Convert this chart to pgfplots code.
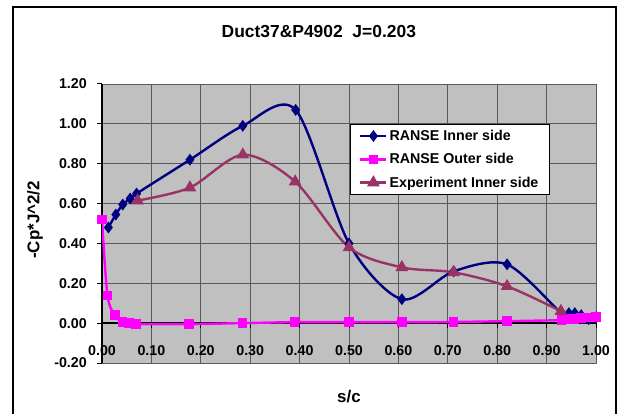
\documentclass[border=0pt]{standalone}
\usepackage{fontspec}
\setmainfont{Liberation Sans}
\usepackage{pgfplots}
\pgfplotsset{compat=1.18}
\definecolor{navy}{HTML}{000080}
\definecolor{mag}{HTML}{FF00FF}
\definecolor{plum}{HTML}{993366}
\definecolor{plotbg}{HTML}{C0C0C0}
\newcommand\tickfont{\fontsize{14.3}{16}\selectfont\bfseries}
\newcommand\legfont{\fontsize{14.3}{16}\selectfont\bfseries}
\newcommand\labfont{\fontsize{17}{20}\selectfont\bfseries}
\begin{document}
\begin{tikzpicture}
\path[use as bounding box] (0bp,0bp) rectangle (624bp,414bp);
\draw[line width=1.3bp] (13bp,-10bp) rectangle (616bp,407bp);
\begin{axis}[
  at={(102bp,51bp)}, anchor=south west,
  width=494bp, height=279bp, scale only axis,
  xmin=0, xmax=1, ymin=-0.2, ymax=1.2,
  xtick={0,0.1,0.2,0.3,0.4,0.5,0.6,0.7,0.8,0.9,1.0},
  ytick={-0.2,0,0.2,0.4,0.6,0.8,1.0,1.2},
  axis x line*=middle, axis y line*=left,
  hide obscured x ticks=false, hide obscured y ticks=false,
  axis background/.style={fill=plotbg, draw=black!50},
  grid=major, major grid style={black!65, line width=0.9bp},
  x axis line style={black, line width=1.3bp},
  y axis line style={black, line width=1.3bp},
  tick style={black, line width=1bp},
  major tick length=5bp, tick align=outside,
  /pgf/number format/.cd, fixed, fixed zerofill, precision=2, assume math mode=true, /pgfplots/.cd,
  xticklabel style={font=\tickfont, inner sep=0pt, anchor=north, yshift=-17bp},
  yticklabel style={font=\tickfont, inner sep=0pt, anchor=east, xshift=-10bp},
  title={Duct37\&P4902\ \ J=0.203},
  title style={font=\fontsize{17.5}{20}\selectfont\bfseries, at={(axis description cs:0.439,1.165)}, anchor=center},
  xlabel={s/c},
  xlabel style={font=\labfont, at={(axis description cs:0.5,-0.1219)}, anchor=center},
  ylabel={-Cp*J\^{}2/2},
  ylabel style={font=\labfont, at={(axis description cs:-0.1356,0.513)}, anchor=center},
  legend style={at={(axis description cs:0.502,0.857)}, anchor=north west, draw=black, fill=white, font=\legfont, row sep=7.5bp, inner xsep=9bp, inner ysep=4bp, cells={anchor=west}},
  legend image code/.code={\draw[mark repeat=2,mark phase=2,#1] plot coordinates {(0bp,0bp) (13bp,0bp) (26bp,0bp)};},
]
\addplot[navy, line width=2.4bp, smooth, mark=diamond*, mark size=4bp, mark options={solid}] coordinates {
(0.013,0.48) (0.028,0.545) (0.042,0.595) (0.057,0.625) (0.070,0.65)
(0.178,0.82) (0.285,0.99) (0.392,1.07) (0.50,0.40) (0.607,0.12)
(0.712,0.26) (0.82,0.295) (0.93,0.05) (0.945,0.05) (0.957,0.05)
(0.97,0.04) (0.985,0.02) (1.0,0.03)};
\addlegendentry{RANSE Inner side}
\addplot[mag, line width=2.4bp, smooth, mark=square*, mark size=3.5bp, mark options={solid}] coordinates {
(0,0.52) (0.011,0.14) (0.026,0.04) (0.041,0.005) (0.055,0.0) (0.069,-0.005)
(0.176,-0.005) (0.284,0.0) (0.39,0.005) (0.5,0.005) (0.607,0.005)
(0.712,0.006) (0.82,0.01) (0.93,0.015) (0.945,0.02) (0.957,0.02)
(0.97,0.025) (0.985,0.028) (1.0,0.03)};
\addlegendentry{RANSE Outer side}
\addplot[plum, line width=2.4bp, smooth, mark=triangle*, mark size=5bp, mark options={solid}] coordinates {
(0.072,0.615) (0.178,0.68) (0.285,0.845) (0.391,0.71) (0.50,0.38)
(0.607,0.28) (0.712,0.255) (0.82,0.185) (0.929,0.06)};
\addlegendentry{Experiment Inner side}
\end{axis}
\end{tikzpicture}
\end{document}
